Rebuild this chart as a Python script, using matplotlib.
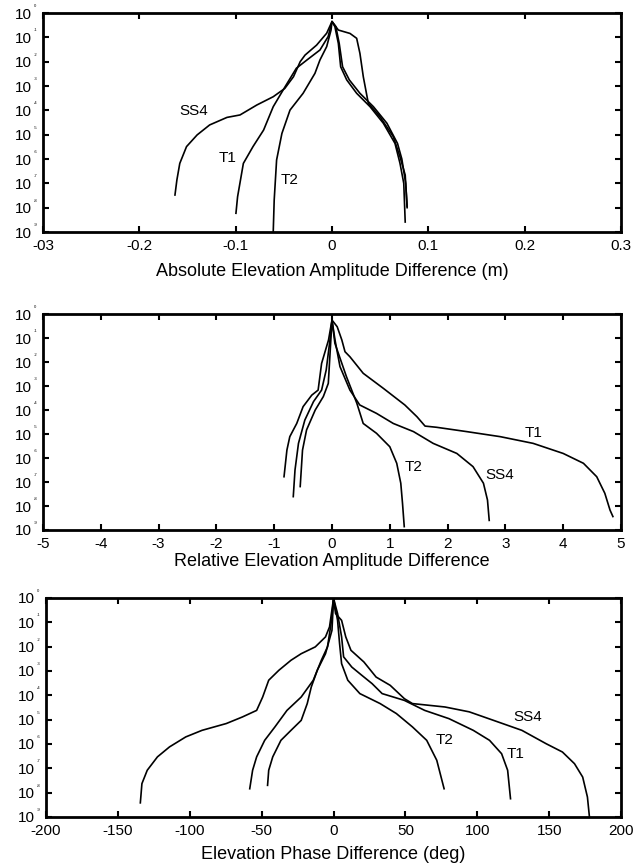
import numpy as np
import matplotlib
matplotlib.use('Agg')
import matplotlib.pyplot as plt

plt.rcParams['font.family'] = ['Liberation Sans', 'DejaVu Sans']

# exceedance curves, x value and log10 of probability
abs_ss4_x = [-0.163, -0.161, -0.158, -0.151, -0.140, -0.127, -0.109, -0.0955, -0.078, -0.061, -0.049, -0.040, -0.033,
             -0.028, -0.016, -0.0055, 0.0, 0.0066, 0.0187, 0.0256, 0.029, 0.0325, 0.0377, 0.0498, 0.0636, 0.0706,
             0.076, 0.078]
abs_ss4_logp = [-7.48, -6.86, -6.18, -5.49, -5.01, -4.60, -4.29, -4.19, -3.78, -3.44, -3.10, -2.62, -2.00, -1.73, -1.32,
                -0.83, -0.35, -0.70, -0.84, -1.04, -1.66, -2.62, -3.71, -4.26, -5.08, -5.91, -6.66, -8.0]
abs_t1_x = [-0.0997, -0.098, -0.092, -0.082, -0.071, -0.061, -0.049, -0.037, -0.026, -0.0125, -0.004, 0.0, 0.003,
            0.0066, 0.009, 0.0153, 0.0256, 0.0395, 0.0533, 0.0654, 0.0706, 0.0745, 0.076]
abs_t1_logp = [-8.23, -7.55, -6.18, -5.49, -4.81, -3.85, -3.05, -2.27, -1.93, -1.52, -0.97, -0.35, -0.56, -1.25, -2.21,
               -2.75, -3.30, -3.85, -4.53, -5.36, -6.18, -7.0, -8.59]
abs_t2_x = [-0.061, -0.060, -0.0575, -0.052, -0.0436, -0.030, -0.0177, -0.0125, -0.0055, -0.001, 0.0, 0.004, 0.0075,
            0.011, 0.018, 0.029, 0.043, 0.057, 0.068, 0.0725, 0.0765, 0.078]
abs_t2_logp = [-9.0, -7.69, -6.04, -4.95, -3.99, -3.30, -2.48, -1.93, -1.38, -0.70, -0.35, -0.56, -1.25, -2.21, -2.75,
               -3.30, -3.85, -4.53, -5.36, -6.0, -7.0, -7.95]

rel_t1_x = [-0.83, -0.78, -0.73, -0.61, -0.50, -0.35, -0.24, -0.18, -0.06, 0.0, 0.09, 0.17, 0.225, 0.31, 0.54, 0.89,
            1.26, 1.47, 1.61, 1.81, 2.33, 2.91, 3.48, 4.00, 4.35, 4.58, 4.72, 4.81, 4.86]
rel_t1_logp = [-6.78, -5.67, -5.11, -4.56, -3.86, -3.38, -3.17, -2.06, -1.08, -0.25, -0.53, -1.08, -1.57, -1.78, -2.47,
               -3.10, -3.79, -4.28, -4.67, -4.72, -4.90, -5.11, -5.39, -5.81, -6.22, -6.78, -7.47, -8.17, -8.44]
rel_ss4_x = [-0.67, -0.64, -0.58, -0.47, -0.32, -0.18, -0.10, -0.035, 0.0, 0.052, 0.138, 0.31, 0.48, 0.77, 1.06, 1.41,
             1.75, 2.16, 2.44, 2.62, 2.69, 2.72]
rel_ss4_logp = [-7.61, -6.5, -5.39, -4.42, -3.65, -3.17, -2.33, -1.08, -0.25, -1.08, -2.19, -3.17, -3.79, -4.14, -4.56,
                -4.90, -5.39, -5.81, -6.36, -7.05, -7.75, -8.6]
rel_t2_x = [-0.55, -0.51, -0.44, -0.29, -0.15, -0.064, -0.02, 0.0, 0.05, 0.25, 0.43, 0.54, 0.77, 1.00, 1.12, 1.19,
            1.22, 1.25]
rel_t2_logp = [-7.19, -5.67, -4.83, -4.0, -3.44, -2.89, -1.08, -0.25, -1.22, -2.61, -3.72, -4.56, -4.97, -5.53, -6.22,
               -7.05, -7.89, -8.86]

ph_ss4_x = [-134.4, -133.3, -129.6, -122.5, -114.1, -102.8, -91.5, -74.6, -63.4, -53.5, -49.3, -45.1, -38.0, -29.6,
            -22.5, -12.7, -5.6, -2.8, 0.0, 1.4, 5.6, 8.5, 12.1, 21.1, 29.6, 39.4, 49.3, 54.9, 66.2, 77.5, 94.4, 111.3,
            131.0, 147.9, 159.2, 167.6, 173.3, 176.6, 178.0]
ph_ss4_logp = [-8.42, -7.63, -7.08, -6.53, -6.12, -5.71, -5.44, -5.16, -4.89, -4.62, -4.07, -3.38, -2.97, -2.56, -2.29,
               -2.01, -1.60, -1.19, -0.02, -0.64, -0.92, -1.60, -2.15, -2.63, -3.25, -3.59, -4.14, -4.34, -4.41, -4.48,
               -4.68, -5.03, -5.44, -5.99, -6.33, -6.81, -7.36, -8.18, -9.0]
ph_t1_x = [-45.9, -45.1, -42.3, -36.6, -29.6, -22.5, -18.3, -15.5, -11.3, -5.6, -1.1, 0.0, 2.8, 5.6, 7.0, 12.7, 19.7,
           26.8, 33.8, 49.3, 63.4, 80.3, 97.2, 108.5, 116.9, 121.1, 123.1]
ph_t1_logp = [-7.70, -7.08, -6.53, -5.85, -5.44, -5.03, -4.34, -3.66, -2.97, -2.29, -1.33, -0.02, -0.64, -1.60, -2.42,
              -2.84, -3.18, -3.52, -3.93, -4.21, -4.62, -4.96, -5.44, -5.85, -6.40, -7.08, -8.25]
ph_t2_x = [-58.3, -56.3, -53.5, -47.9, -40.8, -32.4, -22.5, -14.1, -8.5, -4.2, -1.4, 0.0, 2.8, 4.2, 5.6, 9.9, 18.3,
           32.4, 43.7, 54.9, 64.8, 71.8, 76.9]
ph_t2_logp = [-7.84, -7.08, -6.53, -5.85, -5.30, -4.62, -4.07, -3.38, -2.56, -2.01, -0.92, -0.02, -0.92, -1.88, -2.70,
              -3.38, -3.93, -4.34, -4.75, -5.30, -5.85, -6.67, -7.84]

abs_ticks = [-0.3, -0.2, -0.1, 0, 0.1, 0.2, 0.3]
abs_ticklabels = ['-03', '-0.2', '-0.1', '0', '0.1', '0.2', '0.3']
rel_ticks = [-5, -4, -3, -2, -1, 0, 1, 2, 3, 4, 5]
ph_ticks = [-200, -150, -100, -50, 0, 50, 100, 150, 200]
y_exponents = [0, -1, -2, -3, -4, -5, -6, -7, -8, -9]

# curve label positions (x, log10 p)
abs_labels = [('SS4', -0.144, -4.03), ('T1', -0.108, -5.96), ('T2', -0.0436, -6.86)]
rel_labels = [('T1', 3.48, -4.97), ('T2', 1.41, -6.36), ('SS4', 2.91, -6.71)]
ph_labels = [('SS4', 135.2, -4.89), ('T2', 77.5, -5.85), ('T1', 126.8, -6.40)]

fig = plt.figure(figsize=(6.34, 8.67), dpi=100)
ax1 = fig.add_axes([0.0678, 0.7324, 0.9117, 0.2526])
ax2 = fig.add_axes([0.0678, 0.3887, 0.9117, 0.2491])
ax3 = fig.add_axes([0.0726, 0.0577, 0.9070, 0.2526])

panels = [
    (ax1, [(abs_ss4_x, abs_ss4_logp), (abs_t1_x, abs_t1_logp), (abs_t2_x, abs_t2_logp)], abs_labels,
     abs_ticks, abs_ticklabels, 'Absolute Elevation Amplitude Difference (m)', 7),
    (ax2, [(rel_t1_x, rel_t1_logp), (rel_ss4_x, rel_ss4_logp), (rel_t2_x, rel_t2_logp)], rel_labels,
     rel_ticks, [str(t) for t in rel_ticks], 'Relative Elevation Amplitude Difference', 1.5),
    (ax3, [(ph_ss4_x, ph_ss4_logp), (ph_t1_x, ph_t1_logp), (ph_t2_x, ph_t2_logp)], ph_labels,
     ph_ticks, [str(t) for t in ph_ticks], 'Elevation Phase Difference (deg)', 5.5),
]

for ax, curves, labels, xt, xtl, xlabel, pad in panels:
    for x, lp in curves:
        ax.plot(x, 10.0 ** np.array(lp), color='black', lw=1.2)
    for name, lx, ly in labels:
        ax.text(lx, 10.0 ** ly, name, fontsize=11, ha='center', va='center')
    ax.set_yscale('log')
    ax.set_ylim(1e-9, 1e0)
    ax.set_xlim(xt[0], xt[-1])
    ax.set_xticks(xt)
    ax.set_xticklabels(xtl)
    ax.set_yticks([10.0 ** e for e in y_exponents])
    ax.set_yticklabels(['10'] * len(y_exponents))
    ax.yaxis.set_minor_locator(matplotlib.ticker.NullLocator())
    ax.tick_params(direction='in', length=4, width=1.5, top=True, right=True, labelsize=11)
    ax.tick_params(axis='x', pad=5)
    ax.tick_params(axis='y', pad=8)
    for s in ax.spines.values():
        s.set_linewidth(2.0)
    # tiny exponents of the y tick labels
    for e in y_exponents:
        ax.annotate(str(e), xy=(0, 10.0 ** e), xycoords=('axes fraction', 'data'),
                    xytext=(-5.5, 5), textcoords='offset points', fontsize=3, ha='center', va='center')
    ax.set_xlabel(xlabel, fontsize=13, labelpad=pad)

fig.savefig('out.png', dpi=100)
